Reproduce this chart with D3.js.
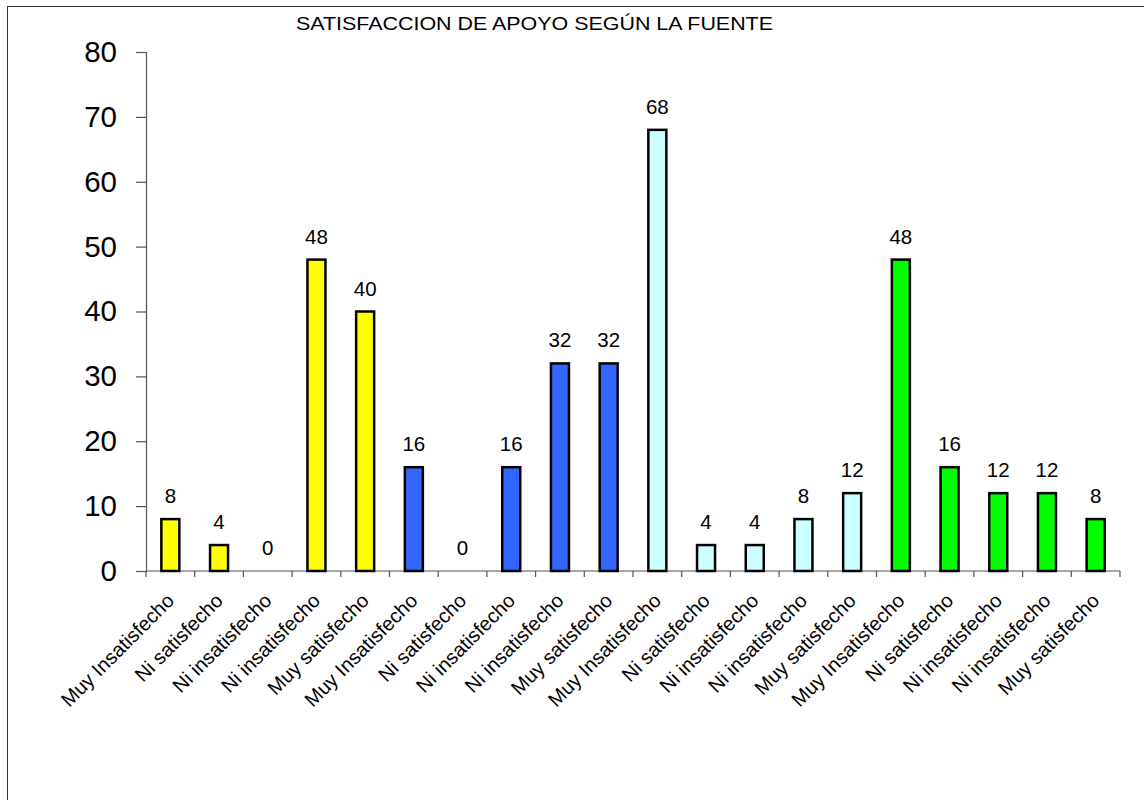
<!DOCTYPE html>
<html>
<head>
<meta charset="utf-8">
<script src="https://cdn.jsdelivr.net/npm/d3@7"></script>
<style>
  html, body { margin: 0; padding: 0; background: #fff; }
  svg { display: block; font-family: "Liberation Sans", Arial, sans-serif; }
</style>
</head>
<body>
<svg id="chart" width="1144" height="800"></svg>
<script>
const title = "SATISFACCION DE APOYO SEGÚN LA FUENTE";
const categories = [
  "Muy Insatisfecho", "Ni satisfecho", "Ni insatisfecho", "Ni insatisfecho", "Muy satisfecho",
  "Muy Insatisfecho", "Ni satisfecho", "Ni insatisfecho", "Ni insatisfecho", "Muy satisfecho",
  "Muy Insatisfecho", "Ni satisfecho", "Ni insatisfecho", "Ni insatisfecho", "Muy satisfecho",
  "Muy Insatisfecho", "Ni satisfecho", "Ni insatisfecho", "Ni insatisfecho", "Muy satisfecho"
];
const values = [8, 4, 0, 48, 40, 16, 0, 16, 32, 32, 68, 4, 4, 8, 12, 48, 16, 12, 12, 8];
const groupColors = ["#FFFF00", "#3366FF", "#CCFFFF", "#00FF00"];
const yTicks = [0, 10, 20, 30, 40, 50, 60, 70, 80];

const svg = d3.select("#chart");

// outer frame
svg.append("rect")
  .attr("x", 7.5).attr("y", 6.5)
  .attr("width", 1160).attr("height", 820)
  .attr("fill", "none").attr("stroke", "#333").attr("stroke-width", 1);

const plotLeft = 146, plotRight = 1120, plotTop = 52, plotBottom = 571;
const x = d3.scaleBand().domain(d3.range(categories.length)).range([plotLeft, plotRight]).padding(0);
const y = d3.scaleLinear().domain([0, 80]).range([plotBottom, plotTop]);

// title
svg.append("text")
  .attr("x", 534.5).attr("y", 30)
  .attr("text-anchor", "middle")
  .attr("font-size", 17.5)
  .attr("textLength", 477).attr("lengthAdjust", "spacingAndGlyphs")
  .attr("fill", "#000")
  .text(title);

// y axis
const yAxis = svg.append("g")
  .attr("transform", `translate(${plotLeft},0)`)
  .call(d3.axisLeft(y).tickValues(yTicks).tickSize(10).tickPadding(19).tickFormat(d3.format("d")));
yAxis.select(".domain").attr("stroke", "#555").attr("stroke-width", 1.2);
yAxis.selectAll(".tick line").attr("stroke", "#555").attr("stroke-width", 1.2);
yAxis.selectAll(".tick text")
  .attr("font-size", 29.5).attr("fill", "#000")
  .attr("font-family", "Liberation Sans, Arial, sans-serif");

// x axis with ticks at band boundaries
const xAxisG = svg.append("g").attr("transform", `translate(0,${plotBottom})`);
const boundaries = d3.range(categories.length + 1);
const xEdge = d3.scaleLinear().domain([0, categories.length]).range([plotLeft, plotRight]);
xAxisG.append("line")
  .attr("x1", plotLeft).attr("x2", plotRight).attr("y1", 0).attr("y2", 0)
  .attr("stroke", "#555").attr("stroke-width", 1.2);
xAxisG.selectAll("line.tk").data(boundaries).join("line")
  .attr("class", "tk")
  .attr("x1", d => xEdge(d)).attr("x2", d => xEdge(d))
  .attr("y1", 0).attr("y2", 6)
  .attr("stroke", "#555").attr("stroke-width", 1.2);

// bars
const barW = 18;
svg.append("g").selectAll("rect").data(values).join("rect")
  .attr("x", (d, i) => x(i) + x.bandwidth() / 2 - barW / 2)
  .attr("y", d => y(d))
  .attr("width", barW)
  .attr("height", d => y(0) - y(d))
  .attr("fill", (d, i) => groupColors[Math.floor(i / 5)])
  .attr("stroke", "#000")
  .attr("stroke-width", d => d > 0 ? 2.5 : 0);

// value labels
svg.append("g").selectAll("text").data(values).join("text")
  .attr("x", (d, i) => x(i) + x.bandwidth() / 2)
  .attr("y", d => y(d) - 16)
  .attr("text-anchor", "middle")
  .attr("font-size", 20.5)
  .attr("fill", "#000")
  .text(d => d);

// category labels
svg.append("g").selectAll("text").data(categories).join("text")
  .attr("transform", (d, i) => `translate(${x(i) + x.bandwidth() / 2 + 5},${plotBottom + 31}) rotate(-45)`)
  .attr("text-anchor", "end")
  .attr("font-size", 20)
  .attr("fill", "#000")
  .text(d => d);
</script>
</body>
</html>
